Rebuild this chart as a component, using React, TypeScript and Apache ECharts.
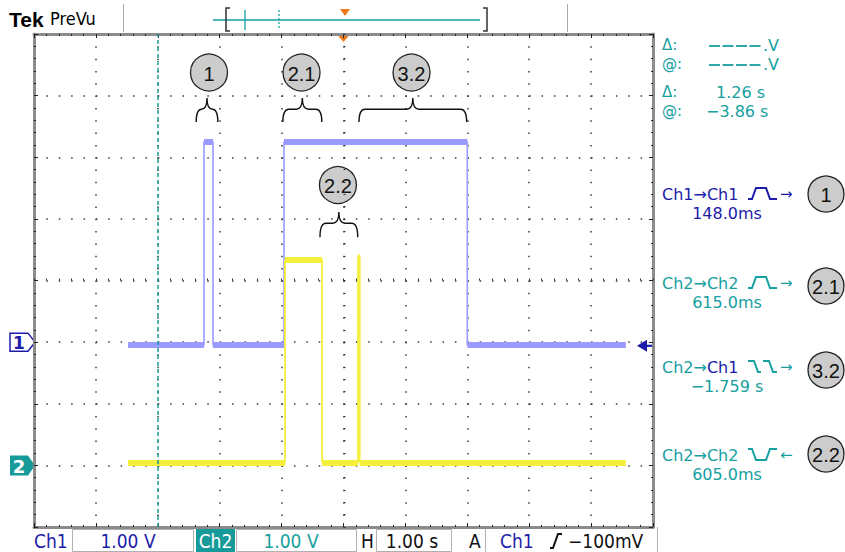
import React, { useEffect, useRef } from 'react';
import * as echarts from 'echarts';

// ---- data (time in s relative to trigger, level in screen divisions) ----
const ch1Trace: [number, number][] = [
  [-3.48, -1.05], [-2.254, -1.05], [-2.254, 2.25], [-2.108, 2.25], [-2.108, -1.05],
  [-0.961, -1.05], [-0.961, 2.25], [2.0, 2.25], [2.0, -1.05], [4.56, -1.05],
];
const ch2Trace: [number, number][] = [
  [-3.48, -2.95], [-0.945, -2.95], [-0.945, 0.33], [-0.345, 0.33], [-0.345, -2.95],
  [0.235, -2.95], [0.235, 0.38], [0.262, 0.38], [0.262, -2.95], [4.56, -2.95],
];
const ch1Ground = -1;
const ch2Ground = -3;
const triggerLevel = -1.06;
const cursorT = -3.0;

const cursorReadout = [
  { sym: 'Δ:', value: '.V', dashes: true },
  { sym: '@:', value: '.V', dashes: true },
  { sym: 'Δ:', value: '1.26 s', dashes: false },
  { sym: '@:', value: '−3.86 s', dashes: false },
];
const measurements = [
  { src: 'Ch1', dst: 'Ch1', glyph: 'pulse', dir: '→', value: '148.0ms', tag: '1' },
  { src: 'Ch2', dst: 'Ch2', glyph: 'pulse', dir: '→', value: '615.0ms', tag: '2.1' },
  { src: 'Ch2', dst: 'Ch1', glyph: 'fallfall', dir: '→', value: '−1.759 s', tag: '3.2' },
  { src: 'Ch2', dst: 'Ch2', glyph: 'fallrise', dir: '←', value: '605.0ms', tag: '2.2' },
];
const annotations = [
  { label: '1', x0: -2.38, x1: -2.03, end: 2.57, bar: 2.78, tip: 2.96, cx: -2.173, cy: 3.375 },
  { label: '2.1', x0: -0.98, x1: -0.35, end: 2.57, bar: 2.78, tip: 2.96, cx: -0.678, cy: 3.375 },
  { label: '3.2', x0: 0.25, x1: 1.99, end: 2.57, bar: 2.78, tip: 2.96, cx: 1.099, cy: 3.375 },
  { label: '2.2', x0: -0.38, x1: 0.23, end: 0.70, bar: 0.93, tip: 1.11, cx: -0.09, cy: 1.55 },
];
const bottomBar = { ch1Scale: '1.00 V', ch2Scale: '1.00 V', timebase: '1.00 s', trigSrc: 'Ch1', trigLevel: '−100mV' };

// ---- styles ----
const BLUE_TXT = '#1c1ca8';
const TEAL = '#16a0a0';
const CH1C = '#9a9aff';
const CH2C = '#f4ef3a';
const PF = '"DejaVu Sans", sans-serif';
const CF = '"DejaVu Sans Condensed", "Liberation Sans Narrow", "Roboto Condensed", "DejaVu Sans", sans-serif';
const chColor = (c: string) => (c === 'Ch1' ? BLUE_TXT : TEAL);

const Brace = echarts.graphic.extendShape({
  shape: { x0: 0, x1: 0, xm: 0, yEnd: 0, yBar: 0, yTip: 0, r: 5 },
  buildPath(ctx: any, s: any) {
    const r = Math.min(s.r, (s.xm - s.x0) / 2);
    ctx.moveTo(s.x0, s.yEnd);
    ctx.quadraticCurveTo(s.x0, s.yBar, s.x0 + r, s.yBar);
    ctx.lineTo(s.xm - r, s.yBar);
    ctx.quadraticCurveTo(s.xm, s.yBar, s.xm, s.yTip);
    ctx.moveTo(s.xm, s.yTip);
    ctx.quadraticCurveTo(s.xm, s.yBar, s.xm + r, s.yBar);
    ctx.lineTo(s.x1 - r, s.yBar);
    ctx.quadraticCurveTo(s.x1, s.yBar, s.x1, s.yEnd);
  },
});
echarts.graphic.registerShape('brace', Brace);

function flatSegments(trace: [number, number][]) {
  const out: any[] = [];
  for (let i = 0; i < trace.length - 1; i++) {
    if (trace[i][1] === trace[i + 1][1]) out.push({ coords: [trace[i], trace[i + 1]] });
  }
  return out;
}

const txt = (x: number, y: number, text: string, fill: string, font: string, align = 'left', extra: any = {}) => ({
  type: 'text', x, y, silent: true,
  style: { text, fill, font, align, textAlign: align, verticalAlign: 'middle', textVerticalAlign: 'middle', ...extra },
});
const line = (x1: number, y1: number, x2: number, y2: number, stroke: string, lineWidth = 1, dash?: number[]) => ({
  type: 'line', silent: true, shape: { x1, y1, x2, y2 }, style: { stroke, lineWidth, lineDash: dash },
});
const poly = (points: number[][], stroke: string, lineWidth = 1.6) => ({
  type: 'polyline', silent: true, shape: { points }, style: { stroke, lineWidth, fill: null },
});
const circ = (cx: number, cy: number, r: number, label: string) => [
  { type: 'circle', silent: true, shape: { cx, cy, r }, style: { fill: '#cccccc', stroke: '#222', lineWidth: 1.3 } },
  txt(cx, cy + 1, label, '#111', '20px "Liberation Sans", Arial, sans-serif', 'center'),
];

function glyphPoints(kind: string, x: number, y: number): number[][][] {
  const t = y - 6, b = y + 5;
  if (kind === 'pulse') return [[[x, b], [x + 4, b], [x + 8, t], [x + 18, t], [x + 22, b], [x + 29, b]]];
  if (kind === 'fallfall') return [
    [[x, t], [x + 6, t], [x + 10, b], [x + 13, b]],
    [[x + 15, t], [x + 21, t], [x + 25, b], [x + 29, b]],
  ];
  return [[[x, t], [x + 4, t], [x + 8, b], [x + 18, b], [x + 22, t], [x + 29, t]]];
}

export default function App() {
  const ref = useRef<HTMLDivElement>(null);
  useEffect(() => {
    const chart = echarts.init(ref.current!, null, { renderer: 'svg' });
    const L = 34, T = 34, W = 619, H = 493;
    const dotted = (gap: number) => ({ color: '#3a3a3a', width: 1.5, type: [1.5, gap] as any });
    const frameAxis = {
      min: 0, max: 10, interval: 1, gridIndex: 1,
      axisLine: { show: true, onZero: false, lineStyle: { color: '#8c8c8c', width: 3 } },
      axisTick: { show: true, inside: true, length: 4, lineStyle: { color: '#222', width: 1 } },
      minorTick: { show: true, splitNumber: 5, length: 2, lineStyle: { color: '#222', width: 1 } },
      axisLabel: { show: false }, splitLine: { show: false },
    };
    chart.setOption({
      animation: false,
      backgroundColor: '#ffffff',
      grid: [
        { left: L, top: T, width: W, height: H },
        { left: L, top: T, width: W, height: H },
      ],
      xAxis: [
        {
          type: 'value', min: -5, max: 5, interval: 1, gridIndex: 0,
          axisLine: { show: false, onZero: true },
          axisTick: { show: true, length: 2, inside: true, lineStyle: { color: '#333' } },
          minorTick: { show: true, splitNumber: 5, length: 2, lineStyle: { color: '#333' } },
          axisLabel: { show: false },
          splitLine: { show: true, lineStyle: dotted(10.82) },
        },
        { type: 'value', position: 'bottom', ...frameAxis },
        { type: 'value', position: 'top', ...frameAxis },
      ],
      yAxis: [
        {
          type: 'value', min: -4, max: 4, interval: 1, gridIndex: 0,
          axisLine: { show: false, onZero: true },
          axisTick: { show: true, length: 2, inside: true, lineStyle: { color: '#333' } },
          minorTick: { show: true, splitNumber: 5, length: 2, lineStyle: { color: '#333' } },
          axisLabel: { show: false },
          splitLine: { show: true, lineStyle: dotted(10.88) },
        },
        { type: 'value', position: 'left', ...frameAxis, min: 0, max: 8 },
        { type: 'value', position: 'right', ...frameAxis, min: 0, max: 8 },
      ],
      series: [
        {
          type: 'line', name: 'Ch1', data: ch1Trace, symbol: 'none', xAxisIndex: 0, yAxisIndex: 0,
          lineStyle: { color: CH1C, width: 1.6 }, silent: true, z: 3,
          markLine: {
            silent: true, symbol: 'none', label: { show: false },
            lineStyle: { color: '#1a9898', width: 1.5, type: [4, 3] },
            data: [{ xAxis: cursorT }],
          },
        },
        {
          type: 'lines', coordinateSystem: 'cartesian2d', xAxisIndex: 0, yAxisIndex: 0,
          data: flatSegments(ch1Trace), lineStyle: { color: CH1C, width: 6, opacity: 1 }, silent: true, z: 3,
        },
        {
          type: 'line', name: 'Ch2', data: ch2Trace, symbol: 'none', xAxisIndex: 0, yAxisIndex: 0,
          lineStyle: { color: CH2C, width: 1.8 }, silent: true, z: 4,
        },
        {
          type: 'lines', coordinateSystem: 'cartesian2d', xAxisIndex: 0, yAxisIndex: 0,
          data: flatSegments(ch2Trace), lineStyle: { color: CH2C, width: 6, opacity: 1 }, silent: true, z: 4,
        },
      ],
    });

    const P = (t: number, v: number) => chart.convertToPixel({ xAxisIndex: 0, yAxisIndex: 0 }, [t, v]) as number[];
    const g: any[] = [];

    // top bar
    g.push(txt(9, 19, 'Tek', '#000', 'bold 21px "Liberation Sans", Arial, sans-serif'));
    g.push(txt(50, 18, 'PreVu', '#000', '18px ' + CF));
    g.push(line(123.5, 4, 123.5, 32, '#aaa', 1));
    g.push(line(567.5, 4, 567.5, 32, '#aaa', 1));
    g.push(line(213, 20, 480, 20, TEAL, 1.5));
    g.push(poly([[230, 8], [226, 8], [226, 31], [230, 31]], '#333', 1.5));
    g.push(poly([[483, 8], [487, 8], [487, 31], [483, 31]], '#333', 1.5));
    g.push(line(245, 10, 245, 30, TEAL, 1.3));
    g.push(line(279, 10, 279, 30, TEAL, 1.3, [2, 2]));
    g.push({ type: 'polygon', silent: true, shape: { points: [[340, 9], [350, 9], [345, 16]] }, style: { fill: '#f07a1a' } });

    // trigger position marker at top of graticule
    const [tx] = P(0, 0);
    g.push({ type: 'polygon', silent: true, shape: { points: [[tx - 6, 35], [tx + 6, 35], [tx, 42]] }, style: { fill: '#f07a1a' } });

    // ground markers
    const y1 = P(0, ch1Ground)[1];
    const y2 = P(0, ch2Ground)[1];
    g.push({ type: 'polygon', silent: true, shape: { points: [[10, y1 - 9], [28, y1 - 9], [35, y1], [28, y1 + 9], [10, y1 + 9]] }, style: { fill: '#fff', stroke: BLUE_TXT, lineWidth: 1.5 } });
    g.push(txt(19, y1 + 1, '1', BLUE_TXT, 'bold 17px ' + PF, 'center'));
    g.push({ type: 'polygon', silent: true, shape: { points: [[10, y2 - 10], [28, y2 - 10], [35, y2], [28, y2 + 10], [10, y2 + 10]] }, style: { fill: '#169a9a' } });
    g.push(txt(19, y2 + 1, '2', '#fff', 'bold 18px ' + PF, 'center'));

    // trigger level arrow (right)
    const ty = P(0, triggerLevel)[1];
    g.push({ type: 'polygon', silent: true, shape: { points: [[637, ty], [647, ty - 6], [647, ty + 6]] }, style: { fill: BLUE_TXT } });
    g.push(line(645, ty, 652, ty, BLUE_TXT, 2.2));

    // annotations
    annotations.forEach((a) => {
      const [x0, yEnd] = P(a.x0, a.end);
      const [x1, yBar] = P(a.x1, a.bar);
      const [, yTip] = P(a.x0, a.tip);
      const xm = (x0 + x1) / 2;
      g.push({ type: 'brace', silent: true, shape: { x0, x1, xm, yEnd, yBar, yTip, r: 6 }, style: { stroke: '#111', lineWidth: 1.4, fill: null } });
      const [cx, cy] = P(a.cx, a.cy);
      g.push(...circ(cx, cy, 18.5, a.label));
    });

    // cursor readout
    const ry = [45, 64, 92, 111];
    cursorReadout.forEach((r, i) => {
      g.push(txt(662, ry[i], r.sym, TEAL, '15px ' + PF));
      if (r.dashes) {
        [0, 1, 2, 3].forEach((k) => g.push(line(709 + k * 13.5, ry[i] + 1, 720 + k * 13.5, ry[i] + 1, TEAL, 1.8)));
        g.push(txt(763, ry[i], r.value, TEAL, '16px ' + PF));
      } else {
        g.push(txt(i === 2 ? 716 : 706, ry[i], r.value, TEAL, '16px ' + PF));
      }
    });

    // measurements
    const my = [194, 283, 367, 455];
    const cy = [194, 286, 370, 454];
    measurements.forEach((m, i) => {
      const y = my[i];
      g.push({
        type: 'text', x: 662, y, silent: true,
        style: {
          text: `{a|${m.src}→}{b|${m.dst}}`, verticalAlign: 'middle', textVerticalAlign: 'middle',
          rich: {
            a: { fill: chColor(m.src), font: '16px ' + PF },
            b: { fill: chColor(m.dst), font: '16px ' + PF },
          },
        },
      });
      const gc = chColor(m.src === 'Ch1' && m.dst === 'Ch1' ? 'Ch1' : 'Ch2');
      glyphPoints(m.glyph, 748, y).forEach((pts) => g.push(poly(pts, gc, 2)));
      g.push(txt(780, y, m.dir, gc, '15px ' + PF));
      g.push(txt(727, y + 19, m.value, chColor(m.src), '16px ' + PF, 'center'));
      g.push(...circ(826, cy[i], 18, m.tag));
    });

    // bottom bar
    const by = 541;
    g.push(txt(34, by, 'Ch1', BLUE_TXT, '19px ' + CF));
    g.push({ type: 'rect', silent: true, shape: { x: 72.5, y: 529.5, width: 121, height: 22 }, style: { fill: null, stroke: '#b0b0b0', lineWidth: 1 } });
    g.push(txt(128, by, bottomBar.ch1Scale, BLUE_TXT, '19px ' + CF, 'center'));
    g.push({ type: 'rect', silent: true, shape: { x: 196, y: 529, width: 39, height: 23 }, style: { fill: '#169a9a' } });
    g.push(txt(215.5, by, 'Ch2', '#fff', '19px ' + CF, 'center'));
    g.push({ type: 'rect', silent: true, shape: { x: 236.5, y: 529.5, width: 120, height: 22 }, style: { fill: null, stroke: '#b0b0b0', lineWidth: 1 } });
    g.push(txt(291, by, bottomBar.ch2Scale, TEAL, '19px ' + CF, 'center'));
    g.push(txt(361, by, 'H', '#111', '19px ' + CF));
    g.push({ type: 'rect', silent: true, shape: { x: 376.5, y: 529.5, width: 75, height: 22 }, style: { fill: null, stroke: '#b0b0b0', lineWidth: 1 } });
    g.push(txt(412, by, bottomBar.timebase, '#111', '19px ' + CF, 'center'));
    g.push(txt(469, by, 'A', '#111', '19px ' + CF));
    g.push(line(485.5, 529, 485.5, 552, '#b0b0b0', 1));
    g.push(txt(500, by, bottomBar.trigSrc, BLUE_TXT, '19px ' + CF));
    g.push(poly([[550, 548], [553, 548], [558, 534], [562, 534]], '#111', 2));
    g.push(txt(568, by, bottomBar.trigLevel, '#111', '19px ' + CF));
    g.push(line(657.5, 527, 657.5, 552, '#b0b0b0', 1));

    chart.setOption({ graphic: g });
    return () => chart.dispose();
  }, []);
  return <div ref={ref} style={{ position: 'fixed', left: 0, top: 0, width: 845, height: 552 }} />;
}
